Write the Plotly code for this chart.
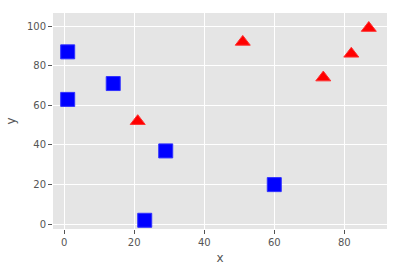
import plotly.graph_objects as go

sq_x = [1, 1, 14, 29, 23, 60]
sq_y = [87, 63, 71, 37, 2, 20]
tri_x = [21, 51, 74, 82, 87]
tri_y = [52, 92, 74, 86, 99]

fig = go.Figure()
fig.add_trace(go.Scatter(x=sq_x, y=sq_y, mode="markers",
                         marker=dict(symbol="square", size=14, color="blue",
                                     line=dict(color="#3030ff", width=1))))
fig.add_trace(go.Scatter(x=tri_x, y=tri_y, mode="markers",
                         marker=dict(symbol="triangle-up", size=13, color="red",
                                     line=dict(color="#ff3030", width=1))))

axis_common = dict(showgrid=True, gridcolor="white", gridwidth=1, zeroline=False,
                   ticks="outside", ticklen=4, tickcolor="#555555", tickwidth=1,
                   tickfont=dict(family="DejaVu Sans", size=10, color="#555555"),
                   showline=False)
fig.update_layout(
    width=402, height=273,
    margin=dict(l=53, r=15, t=13, b=44),
    paper_bgcolor="white", plot_bgcolor="#E5E5E5",
    showlegend=False,
    xaxis=dict(range=[-3.2, 92.2], tickvals=[0, 20, 40, 60, 80],
               title=dict(text="x", font=dict(family="DejaVu Sans", size=12, color="#555555"), standoff=6),
               **axis_common),
    yaxis=dict(range=[-2.4, 106.6], tickvals=[0, 20, 40, 60, 80, 100],
               title=dict(text="y", font=dict(family="DejaVu Sans", size=12, color="#555555"), standoff=8),
               **axis_common),
)
fig.write_html("out.html")
